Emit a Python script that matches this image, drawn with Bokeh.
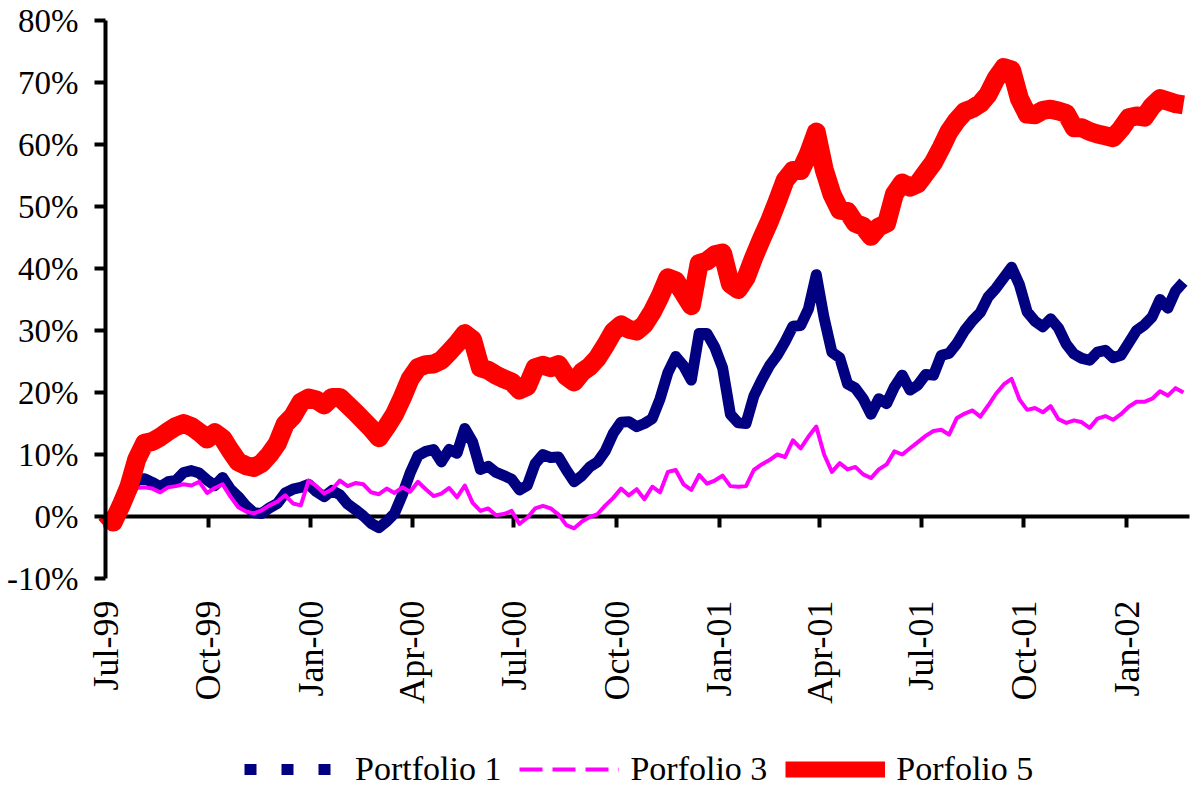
import math
from datetime import datetime

import pandas as pd
from bokeh.embed import file_html
from bokeh.models import (ColumnDataSource, DatetimeAxis, FixedTicker, Legend,
                          LegendItem, LinearAxis, PrintfTickFormatter, Range1d)
from bokeh.plotting import figure
from bokeh.resources import INLINE

# Cumulative returns (%), weekly observations starting 1 July 1999
START = "1999-07-01"
END = "2002-02-26"

portfolio_1 = [
    0.0, -0.5, 1.5, 4.0, 5.8, 6.1, 5.5, 4.8, 5.6, 5.8,
    7.1, 7.4, 7.0, 5.9, 5.0, 6.3, 4.4, 3.2, 1.7, 0.6,
    0.5, 1.4, 2.1, 3.8, 4.4, 4.7, 5.2, 4.0, 3.2, 4.2,
    3.5, 2.0, 1.1, 0.1, -1.1, -1.8, -0.8, 0.5, 3.5, 7.0,
    9.8, 10.5, 10.8, 8.8, 10.8, 10.2, 14.2, 12.0, 7.6, 8.1,
    7.1, 6.6, 6.0, 4.3, 5.0, 8.5, 10.0, 9.5, 9.6, 7.5,
    5.6, 6.6, 8.0, 8.8, 10.6, 13.4, 15.2, 15.3, 14.5, 15.0,
    15.8, 19.0, 23.2, 25.8, 24.3, 22.0, 29.5, 29.5, 27.3, 24.0,
    16.5, 15.1, 15.0, 19.4, 22.0, 24.3, 26.0, 28.2, 30.7, 30.8,
    33.5, 39.0, 32.0, 26.5, 25.6, 21.4, 20.7, 19.0, 16.5, 19.0,
    18.2, 20.9, 22.8, 20.4, 21.2, 22.9, 22.8, 26.0, 26.3, 27.9,
    30.0, 31.6, 32.9, 35.4, 36.8, 38.5, 40.2, 37.4, 33.0, 31.5,
    30.6, 31.9, 30.4, 27.8, 26.2, 25.5, 25.2, 26.5, 26.8, 25.6,
    26.0, 28.0, 30.0, 30.9, 32.2, 35.0, 33.6, 36.4, 37.8,
]

portfolio_3 = [
    0.0, -0.6, 1.0, 2.8, 4.6, 4.7, 4.5, 3.9, 4.7, 4.9,
    5.2, 5.0, 5.6, 3.8, 4.6, 5.2, 3.2, 1.5, 0.8, 0.5,
    1.0, 1.8, 2.4, 3.4, 2.1, 1.8, 5.8, 4.9, 3.7, 4.4,
    5.8, 4.9, 5.4, 5.2, 3.9, 3.6, 4.5, 3.8, 4.7, 4.0,
    5.6, 4.4, 3.3, 3.7, 4.6, 3.1, 5.0, 2.2, 0.9, 1.3,
    0.2, 0.4, 0.9, -1.2, -0.2, 1.3, 1.7, 1.3, 0.3, -1.4,
    -1.9, -0.8, -0.1, 0.4, 1.8, 3.0, 4.5, 3.4, 4.4, 2.8,
    4.8, 3.9, 7.2, 7.5, 5.2, 4.3, 6.7, 5.3, 5.8, 6.6,
    4.9, 4.8, 4.9, 7.5, 8.4, 9.1, 10.0, 9.6, 12.3, 11.0,
    12.9, 14.5, 10.0, 7.2, 8.6, 7.6, 8.0, 6.8, 6.2, 7.6,
    8.4, 10.5, 10.0, 11.0, 12.0, 13.0, 13.8, 14.0, 13.2, 15.9,
    16.6, 17.1, 16.1, 17.9, 19.8, 21.3, 22.2, 18.9, 17.2, 17.5,
    16.8, 17.8, 15.7, 15.1, 15.5, 15.2, 14.3, 15.8, 16.2, 15.6,
    16.5, 17.7, 18.5, 18.5, 19.0, 20.2, 19.5, 20.7, 20.0,
]

portfolio_5 = [
    0.5, -0.9, 1.8, 4.8, 9.2, 11.8, 12.1, 12.8, 13.7, 14.5,
    15.0, 14.5, 13.6, 12.5, 13.5, 12.6, 10.6, 8.8, 8.2, 7.9,
    8.6, 10.0, 11.8, 14.9, 16.2, 18.4, 19.1, 18.8, 18.0, 19.2,
    19.2, 18.0, 16.8, 15.5, 14.2, 12.7, 14.5, 16.5, 19.2, 22.2,
    24.0, 24.5, 24.6, 25.2, 26.5, 27.9, 29.5, 28.5, 24.0, 23.6,
    22.8, 22.2, 21.7, 20.4, 21.0, 24.0, 24.4, 24.0, 24.5, 22.6,
    21.7, 23.3, 24.2, 25.6, 27.6, 29.8, 30.9, 30.2, 29.9, 31.0,
    33.0, 35.5, 38.5, 38.0, 36.0, 34.0, 40.8, 41.2, 42.2, 42.5,
    37.5, 36.6, 38.5, 41.8, 44.8, 47.6, 50.8, 54.2, 55.8, 55.8,
    58.5, 62.0, 56.0, 52.0, 49.4, 49.2, 47.3, 46.8, 45.2, 46.7,
    47.3, 52.0, 53.8, 53.1, 53.7, 55.4, 57.1, 59.5, 62.1, 63.9,
    65.3, 65.8, 66.6, 68.1, 70.6, 72.4, 72.0, 67.4, 64.9, 64.8,
    65.5, 65.7, 65.4, 65.0, 62.7, 62.7, 62.1, 61.7, 61.4, 61.1,
    62.5, 64.3, 64.6, 64.4, 66.2, 67.4, 67.0, 66.6, 66.4,
]

series_names = ["Portfolio 1", "Porfolio 3", "Porfolio 5"]

tick_dates = ["1999-07-01", "1999-10-01", "2000-01-01", "2000-04-01",
              "2000-07-01", "2000-10-01", "2001-01-01", "2001-04-01",
              "2001-07-01", "2001-10-01", "2002-01-01"]
tick_labels = ["Jul-99", "Oct-99", "Jan-00", "Apr-00", "Jul-00", "Oct-00",
               "Jan-01", "Apr-01", "Jul-01", "Oct-01", "Jan-02"]
y_ticks = [-10, 0, 10, 20, 30, 40, 50, 60, 70, 80]
Y_MIN, Y_MAX = -10, 80

dates = pd.date_range(START, periods=len(portfolio_5), freq="7D")
source = ColumnDataSource(dict(date=dates, p1=portfolio_1, p3=portfolio_3,
                               p5=portfolio_5))

FONT = "Liberation Serif"
NAVY, MAGENTA, RED = "#000080", "#FF00FF", "#FF0000"

# The frame covers the whole canvas; the axes are pinned at fixed data
# locations so the tick labels and legend can sit around the plotting area.
W, H = 1204, 810
AX_LEFT, AX_RIGHT = 105.0, 1188.5       # pixel columns of START and END
AX_TOP, AX_BOTTOM = 20.0, 578.0         # pixel rows of Y_MAX and Y_MIN

t0 = pd.Timestamp(START).value / 1e6
t1 = pd.Timestamp(END).value / 1e6
ms_per_px = (t1 - t0) / (AX_RIGHT - AX_LEFT)
x_range = Range1d(t0 - AX_LEFT * ms_per_px, t1 + (W - AX_RIGHT) * ms_per_px)

unit_per_px = (Y_MAX - Y_MIN) / (AX_BOTTOM - AX_TOP)
y_range = Range1d(Y_MIN - (H - AX_BOTTOM) * unit_per_px,
                  Y_MAX + AX_TOP * unit_per_px)

p = figure(width=W, height=H, x_axis_type=None, y_axis_type=None,
           x_range=x_range, y_range=y_range,
           output_backend="svg", toolbar_location=None,
           min_border_left=0, min_border_right=0,
           min_border_top=0, min_border_bottom=0)
p.grid.visible = False
p.outline_line_color = None
p.background_fill_color = "white"
p.border_fill_color = "white"

tick_ms = [pd.Timestamp(d).value // 10**6 for d in tick_dates]

# vertical axis with percentage labels
yax = LinearAxis(ticker=FixedTicker(ticks=y_ticks),
                 formatter=PrintfTickFormatter(format="%d%%"),
                 fixed_location=t0, bounds=(Y_MIN, Y_MAX),
                 axis_line_width=4, axis_line_color="black",
                 major_tick_line_width=4, major_tick_out=11, major_tick_in=0,
                 minor_tick_out=0, minor_tick_in=0,
                 major_label_standoff=16,
                 major_label_text_font=FONT,
                 major_label_text_font_size="33px",
                 major_label_text_color="black")
p.add_layout(yax, "left")

# date labels beneath the -10% level
xlab = DatetimeAxis(ticker=FixedTicker(ticks=tick_ms), fixed_location=Y_MIN,
                    major_label_overrides={ms: lab for ms, lab in
                                           zip(tick_ms, tick_labels)},
                    axis_line_color=None, major_tick_line_color=None,
                    minor_tick_line_color=None,
                    major_tick_out=0, major_tick_in=0,
                    minor_tick_out=0, minor_tick_in=0,
                    major_label_orientation=math.pi / 2,
                    major_label_standoff=22,
                    major_label_text_font=FONT,
                    major_label_text_font_size="36px",
                    major_label_text_color="black")
p.add_layout(xlab, "below")

# horizontal axis line crossing at 0%
zero_axis = DatetimeAxis(ticker=FixedTicker(ticks=tick_ms), fixed_location=0,
                         bounds=(t0, t1),
                         axis_line_width=4, axis_line_color="black",
                         major_tick_line_width=4, major_tick_out=11,
                         major_tick_in=0, minor_tick_out=0, minor_tick_in=0,
                         major_label_overrides={ms: "" for ms in tick_ms},
                         level="underlay")
p.add_layout(zero_axis, "below")

p.line("date", "p1", source=source, line_color=NAVY, line_width=11,
       line_join="round")
p.line("date", "p3", source=source, line_color=MAGENTA, line_width=4,
       line_join="round")
p.line("date", "p5", source=source, line_color=RED, line_width=19,
       line_join="round")

# legend swatches (renderers that hold no visible points)
nan = float("nan")
k1 = p.line(x=[t0], y=[nan], line_color=NAVY, line_width=11,
            line_dash="12 25")
k3 = p.line(x=[t0], y=[nan], line_color=MAGENTA, line_width=4,
            line_dash="23 10")
k5 = p.line(x=[t0], y=[nan], line_color=RED, line_width=16)

legend = Legend(items=[LegendItem(label=series_names[0], renderers=[k1]),
                       LegendItem(label=series_names[1], renderers=[k3]),
                       LegendItem(label=series_names[2], renderers=[k5])],
                orientation="horizontal", location=(244, 22),
                glyph_width=100, glyph_height=20, label_standoff=11,
                spacing=18, padding=0, margin=0,
                label_text_font=FONT, label_text_font_size="34px",
                label_text_color="black",
                border_line_color=None, background_fill_alpha=0)
p.add_layout(legend, "center")

open("out.html", "w").write(file_html(p, INLINE))
